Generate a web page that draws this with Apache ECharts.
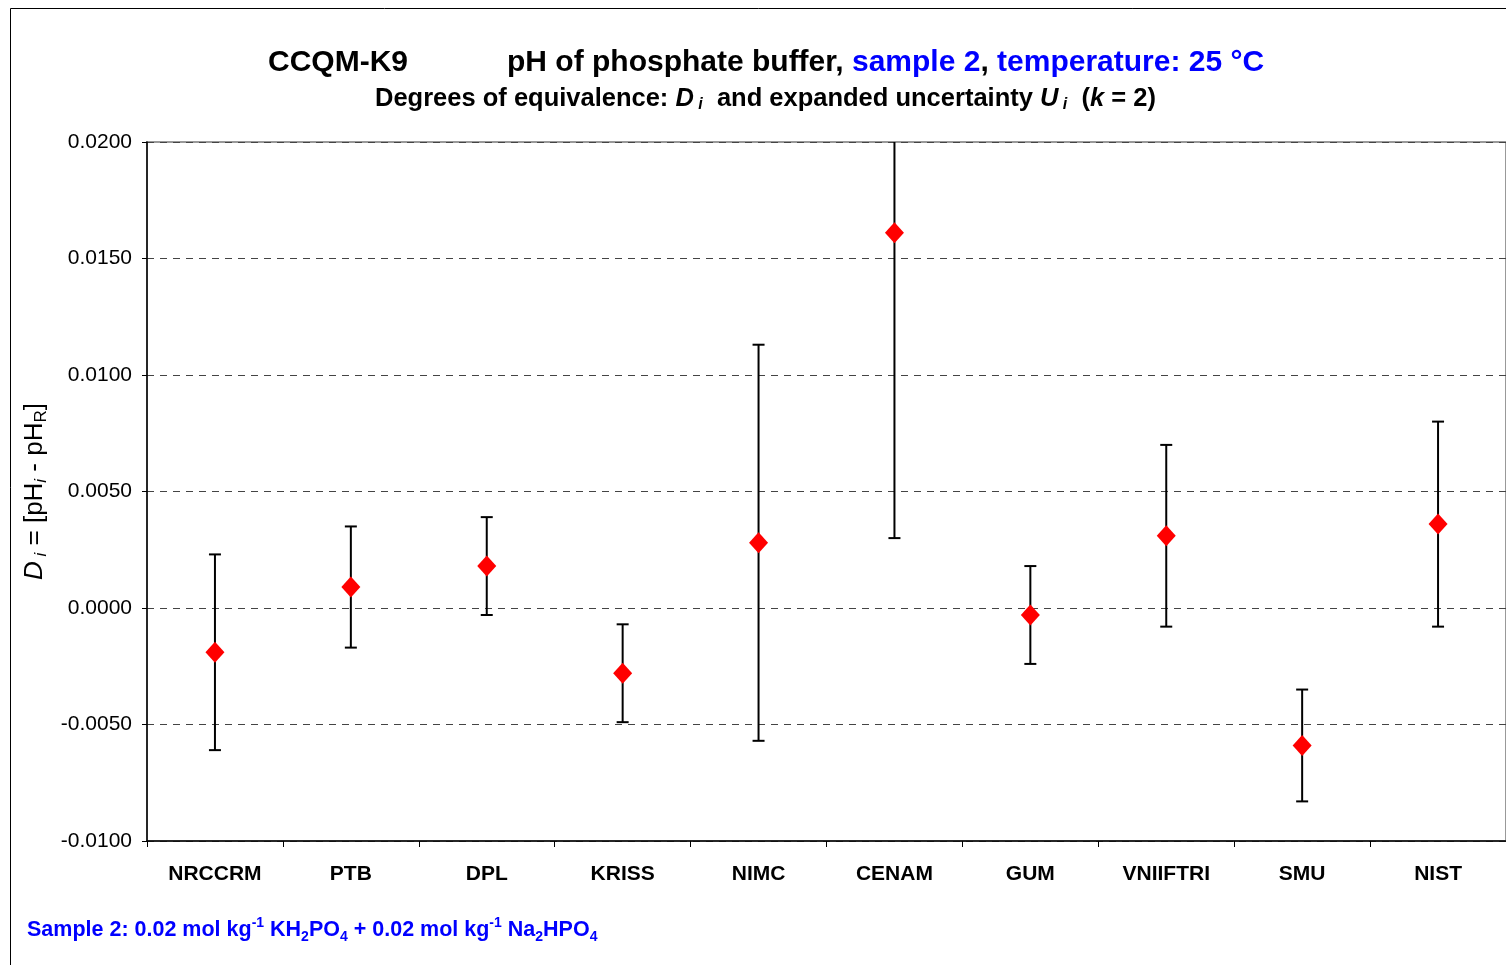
<!DOCTYPE html>
<html>
<head>
<meta charset="utf-8">
<script src="https://cdn.jsdelivr.net/npm/echarts@6/dist/echarts.min.js"></script>
<style>
  html, body { margin: 0; padding: 0; background: #fff; }
  #chart { width: 1506px; height: 965px; }
</style>
</head>
<body>
<div id="chart"></div>
<script>
// labs in the key comparison
var labs = ['NRCCRM', 'PTB', 'DPL', 'KRISS', 'NIMC', 'CENAM', 'GUM', 'VNIIFTRI', 'SMU', 'NIST'];
// degree of equivalence D_i
var degEq = [-0.0019, 0.0009, 0.0018, -0.0028, 0.0028, 0.0161, -0.0003, 0.0031, -0.0059, 0.0036];
// expanded uncertainty U_i (k = 2)
var expU = [0.0042, 0.0026, 0.0021, 0.0021, 0.0085, 0.0131, 0.0021, 0.0039, 0.0024, 0.0044];

var FONT = '"Liberation Sans", Arial, sans-serif';
var BLUE = '#0000ff';

var barData = labs.map(function (c, i) {
  return [i, degEq[i] - expU[i], degEq[i] + expU[i]];
});

function renderBar(params, api) {
  var x = api.value(0);
  var hi = api.coord([x, api.value(2)]);
  var lo = api.coord([x, api.value(1)]);
  var w = 6;
  var st = { stroke: '#000', lineWidth: 2 };
  return {
    type: 'group',
    children: [
      { type: 'line', shape: { x1: hi[0], y1: hi[1], x2: lo[0], y2: lo[1] }, style: st },
      { type: 'line', shape: { x1: hi[0] - w, y1: hi[1], x2: hi[0] + w, y2: hi[1] }, style: st },
      { type: 'line', shape: { x1: lo[0] - w, y1: lo[1], x2: lo[0] + w, y2: lo[1] }, style: st }
    ]
  };
}

var chart = echarts.init(document.getElementById('chart'));

chart.setOption({
  backgroundColor: '#fff',
  animation: false,
  textStyle: { fontFamily: FONT },
  title: [
    {
      text: 'CCQM-K9',
      left: 268, top: 48, padding: 0,
      textStyle: { fontSize: 30, fontWeight: 'bold', color: '#000', fontFamily: FONT }
    },
    {
      text: '{k|pH of phosphate buffer, }{b|sample 2}{k|, }{b|temperature: 25 °C}',
      left: 507, top: 48, padding: 0,
      textStyle: {
        rich: {
          k: { fontSize: 30, fontWeight: 'bold', color: '#000', fontFamily: FONT },
          b: { fontSize: 30, fontWeight: 'bold', color: BLUE, fontFamily: FONT }
        }
      }
    },
    {
      text: '{n|Degrees of equivalence: }{i|D}{s| i}{n|  and expanded uncertainty }{i|U}{s| i}{n|  (}{i|k}{n| = 2)}',
      left: 375, top: 85, padding: 0,
      textStyle: {
        rich: {
          n: { fontSize: 25.5, fontWeight: 'bold', color: '#000', fontFamily: FONT, lineHeight: 28 },
          i: { fontSize: 25.5, fontWeight: 'bold', fontStyle: 'italic', color: '#000', fontFamily: FONT, lineHeight: 28 },
          s: { fontSize: 16, fontStyle: 'italic', color: '#000', fontFamily: FONT, lineHeight: 16, verticalAlign: 'bottom' }
        }
      }
    },
    {
      text: '{n|Sample 2: 0.02 mol kg}{p|-1}{n| KH}{d|2}{n|PO}{d|4}{n| + 0.02 mol kg}{p|-1}{n| Na}{d|2}{n|HPO}{d|4}',
      left: 27, top: 916, padding: 0,
      textStyle: {
        rich: {
          n: { fontSize: 21.5, fontWeight: 'bold', color: BLUE, fontFamily: FONT, lineHeight: 28 },
          p: { fontSize: 14, fontWeight: 'bold', color: BLUE, fontFamily: FONT, lineHeight: 14, verticalAlign: 'top' },
          d: { fontSize: 14, fontWeight: 'bold', color: BLUE, fontFamily: FONT, lineHeight: 14, verticalAlign: 'bottom' }
        }
      }
    }
  ],
  graphic: [
    {
      type: 'rect',
      shape: { x: 10.5, y: 8.5, width: 1520, height: 980 },
      style: { fill: 'none', stroke: '#000', lineWidth: 1 },
      silent: true
    }
  ],
  grid: {
    left: 147, right: -3, top: 142, bottom: 124,
    show: true, borderColor: '#999', borderWidth: 2
  },
  xAxis: {
    type: 'category',
    data: labs,
    boundaryGap: true,
    axisLine: { onZero: false, lineStyle: { color: '#000', width: 1.5 } },
    axisTick: { show: true, interval: 0, length: 6, lineStyle: { color: '#000' } },
    axisLabel: { interval: 0, margin: 23, color: '#000', fontSize: 21, fontWeight: 'bold', fontFamily: FONT },
    splitLine: { show: false }
  },
  yAxis: {
    type: 'value',
    min: -0.01, max: 0.02, interval: 0.005,
    name: '{i|D}{s| i}{n| = [pH}{s|i}{n| - pH}{r|R}{n|]}',
    nameLocation: 'middle',
    nameRotate: 90,
    nameGap: 96,
    nameTextStyle: {
      rich: {
        n: { fontSize: 26, color: '#000', fontFamily: FONT, lineHeight: 30 },
        i: { fontSize: 26, fontStyle: 'italic', color: '#000', fontFamily: FONT, lineHeight: 30 },
        s: { fontSize: 17, fontStyle: 'italic', color: '#000', fontFamily: FONT, lineHeight: 17, verticalAlign: 'bottom' },
        r: { fontSize: 17, color: '#000', fontFamily: FONT, lineHeight: 17, verticalAlign: 'bottom' }
      }
    },
    axisLine: { show: true, lineStyle: { color: '#000', width: 1.5 } },
    axisTick: { show: true, length: 5, lineStyle: { color: '#000' } },
    axisLabel: {
      margin: 15, color: '#000', fontSize: 21, fontFamily: FONT,
      formatter: function (v) { return v.toFixed(4); }
    },
    splitLine: { show: true, lineStyle: { color: '#444', type: [7, 6], width: 1 } }
  },
  series: [
    {
      type: 'custom',
      renderItem: renderBar,
      data: barData,
      clip: true,
      z: 2,
      encode: { x: 0, y: [1, 2] }
    },
    {
      type: 'scatter',
      data: degEq,
      symbol: 'diamond',
      symbolSize: [19, 21],
      itemStyle: { color: '#ff0000', opacity: 1 },
      z: 3
    }
  ]
});
</script>
</body>
</html>
